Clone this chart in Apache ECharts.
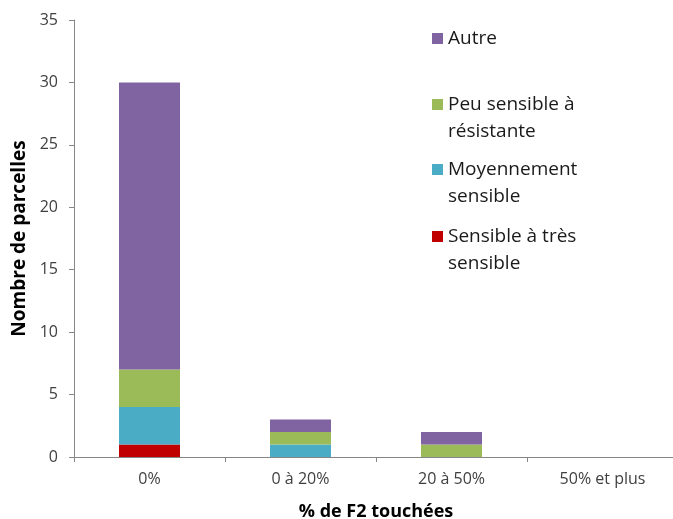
<!DOCTYPE html>
<html><head><meta charset="utf-8">
<script src="https://cdn.jsdelivr.net/npm/echarts@6/dist/echarts.min.js"></script>
<style>html,body{margin:0;padding:0;background:#fff}#c{width:673px;height:519px}</style>
</head><body><div id="c"></div>
<script>
var categories = ['0%', '0 à 20%', '20 à 50%', '50% et plus'];
var seriesNames = ['Sensible à très sensible', 'Moyennement sensible', 'Peu sensible à résistante', 'Autre'];
var sensible = [1, 0, 0, 0];
var moyennement = [3, 1, 0, 0];
var peuSensible = [3, 1, 1, 0];
var autre = [23, 1, 1, 0];
var colors = ['#C00000', '#4BACC6', '#9BBB59', '#8064A2'];
var legendLabels = {
  'Autre': 'Autre',
  'Peu sensible à résistante': '\nPeu sensible à\nrésistante',
  'Moyennement sensible': '\nMoyennement\nsensible',
  'Sensible à très sensible': '\nSensible à très\nsensible'
};
var values = [sensible, moyennement, peuSensible, autre];
var font = '"Open Sans", sans-serif';
var chart = echarts.init(document.getElementById('c'));
function leg(name, top) {
  return {
    data: [name], left: 432, top: top, orient: 'vertical', padding: 0,
    itemWidth: 11, itemHeight: 11, icon: 'rect', selectedMode: false,
    formatter: function (n) { return legendLabels[n]; },
    textStyle: { fontFamily: font, fontSize: 19, color: '#1a1a1a', lineHeight: 27 }
  };
}
chart.setOption({
  animation: false,
  color: colors,
  textStyle: { fontFamily: font },
  grid: { left: 74, top: 20, bottom: 62, width: 604, containLabel: false, outerBoundsMode: 'none' },
  legend: [
    leg('Autre', 25),
    leg('Peu sensible à résistante', 64),
    leg('Moyennement sensible', 129),
    leg('Sensible à très sensible', 196)
  ],
  xAxis: {
    type: 'category', data: categories,
    name: '% de F2 touchées', nameLocation: 'middle', nameGap: 46,
    nameTextStyle: { fontFamily: font, fontSize: 18, fontWeight: 'bold', color: '#000' },
    axisLine: { lineStyle: { color: '#868686', width: 1 } },
    axisTick: { show: true, length: 5, lineStyle: { color: '#868686' } },
    axisLabel: { fontFamily: font, fontSize: 16, color: '#404040', margin: 14 }
  },
  yAxis: {
    type: 'value', min: 0, max: 35, interval: 5,
    name: 'Nombre de parcelles', nameLocation: 'middle', nameGap: 44,
    nameTextStyle: { fontFamily: font, fontSize: 19, fontWeight: 'bold', color: '#000' },
    axisLine: { show: true, lineStyle: { color: '#868686', width: 1 } },
    axisTick: { show: true, length: 5, lineStyle: { color: '#868686' } },
    axisLabel: { fontFamily: font, fontSize: 16, color: '#404040', margin: 16 },
    splitLine: { show: false }
  },
  series: seriesNames.map(function (n, i) {
    return { name: n, type: 'bar', stack: 'total', barWidth: 61, data: values[i], itemStyle: { color: colors[i] } };
  })
});
</script></body></html>
